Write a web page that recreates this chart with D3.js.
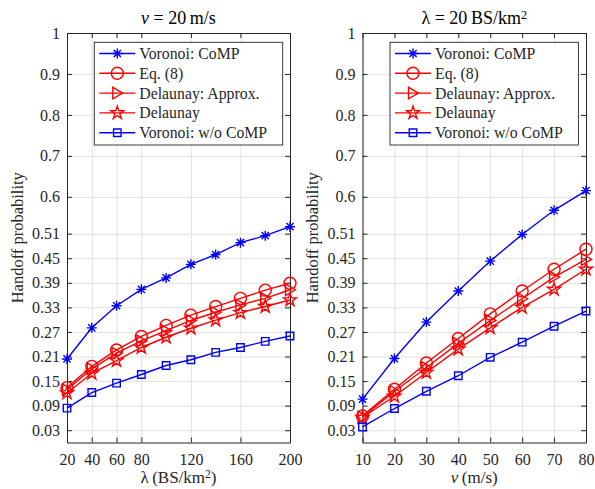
<!DOCTYPE html>
<html>
<head>
<meta charset="utf-8">
<script src="https://cdn.jsdelivr.net/npm/d3@7"></script>
<style>
  body { margin: 0; background: #fff; }
  svg { display: block; }
</style>
</head>
<body>
<svg id="chart" width="595" height="489"></svg>
<script>
// ---- data ----
const lambdaVals = [20, 40, 60, 80, 100, 120, 140, 160, 180, 200];
const lambdaTicks = [20, 40, 60, 80, 120, 160, 200];
const speedVals = [10, 20, 30, 40, 50, 60, 70, 80];
const speedTicks = [10, 20, 30, 40, 50, 60, 70, 80];
const yTicks = [0.03, 0.09, 0.15, 0.21, 0.27, 0.33, 0.39, 0.45, 0.51, 0.6, 0.7, 0.8, 0.9, 1];

const seriesNames = ["Voronoi: CoMP", "Eq. (8)", "Delaunay: Approx.", "Delaunay", "Voronoi: w/o CoMP"];
const seriesColors = ["#0000ff", "#ff0000", "#ff0000", "#ff0000", "#0000ff"];
const seriesMarkers = ["asterisk", "circle", "triangleRight", "pentagram", "square"];

// handoff probability vs. BS density (v = 20 m/s)
const lamVoronoiCoMP   = [0.204, 0.280, 0.334, 0.374, 0.402, 0.435, 0.459, 0.488, 0.505, 0.527];
const lamEq8           = [0.134, 0.186, 0.226, 0.259, 0.286, 0.311, 0.332, 0.352, 0.372, 0.389];
const lamDelaunayApx   = [0.129, 0.180, 0.218, 0.248, 0.273, 0.298, 0.318, 0.336, 0.352, 0.373];
const lamDelaunay      = [0.121, 0.169, 0.200, 0.232, 0.257, 0.279, 0.299, 0.317, 0.332, 0.348];
const lamVoronoiNoCoMP = [0.084, 0.122, 0.145, 0.166, 0.188, 0.202, 0.220, 0.232, 0.247, 0.260];

// handoff probability vs. speed (lambda = 20 BS/km^2)
const spdVoronoiCoMP   = [0.106, 0.205, 0.294, 0.370, 0.443, 0.508, 0.567, 0.615];
const spdEq8           = [0.065, 0.130, 0.194, 0.254, 0.314, 0.370, 0.423, 0.472];
const spdDelaunayApx   = [0.0625, 0.1245, 0.183, 0.242, 0.298, 0.351, 0.404, 0.447];
const spdDelaunay      = [0.061, 0.113, 0.171, 0.228, 0.280, 0.330, 0.374, 0.423];
const spdVoronoiNoCoMP = [0.038, 0.083, 0.125, 0.163, 0.208, 0.245, 0.284, 0.321];

// ---- drawing ----
const svg = d3.select("#chart");
const FONT = "'Liberation Serif', 'Times New Roman', serif";
const AX = "#262626";
const GRID = "#e2e2e2";
const plotTop = 33, plotBottom = 442.5;

const panels = [
  {
    x0: 67, x1: 290, xs: lambdaVals, ticks: lambdaTicks, domain: [20, 200],
    series: [lamVoronoiCoMP, lamEq8, lamDelaunayApx, lamDelaunay, lamVoronoiNoCoMP],
    title: [{t: "v", i: true}, {t: " = 20\u2009m/s"}],
    xlabel: [{t: "λ\u2009(BS/km"}, {t: "2", sup: true}, {t: ")"}],
    legendX: 94.3
  },
  {
    x0: 362.5, x1: 586, xs: speedVals, ticks: speedTicks, domain: [10, 80],
    series: [spdVoronoiCoMP, spdEq8, spdDelaunayApx, spdDelaunay, spdVoronoiNoCoMP],
    title: [{t: "λ = 20\u2009BS/km"}, {t: "2", sup: true}],
    xlabel: [{t: "v", i: true}, {t: "\u2009(m/s)"}],
    legendX: 390
  }
];

function markerPath(type) {
  switch (type) {
    case "asterisk": {
      const r = 5, a = 3.6;
      return `M${-r},0L${r},0M0,${-r}L0,${r}M${-a},${-a}L${a},${a}M${-a},${a}L${a},${-a}`;
    }
    case "circle": return d3.symbol(d3.symbolCircle, Math.PI * 36)();
    case "square": return d3.symbol(d3.symbolSquare, 56)();
    case "pentagram": return d3.symbol(d3.symbolStar, 52)();
    case "triangleRight": return "M5.5,0L-4.5,-5.8L-4.5,5.8Z";
  }
}

function richText(sel, parts, size) {
  parts.forEach(p => {
    const ts = sel.append("tspan").text(p.t);
    if (p.i) ts.attr("font-style", "italic");
    if (p.sup) ts.attr("font-size", size * 0.68).attr("baseline-shift", "40%");
  });
}

panels.forEach(P => {
  const x = d3.scaleLinear().domain(P.domain).range([P.x0, P.x1]);
  const y = d3.scaleLinear().domain([0, 1]).range([plotBottom, plotTop]);
  const w = P.x1 - P.x0, h = plotBottom - plotTop;
  const g = svg.append("g");

  // grid
  g.append("g").attr("transform", `translate(0,${plotBottom})`)
    .call(d3.axisBottom(x).tickValues(P.ticks).tickSize(-h).tickFormat(""))
    .call(s => s.select(".domain").remove())
    .call(s => s.selectAll("line").attr("stroke", GRID));
  g.append("g").attr("transform", `translate(${P.x0},0)`)
    .call(d3.axisLeft(y).tickValues(yTicks).tickSize(-w).tickFormat(""))
    .call(s => s.select(".domain").remove())
    .call(s => s.selectAll("line").attr("stroke", GRID));

  // axes (ticks pointing inward on all four sides)
  const styleAxis = s => {
    s.select(".domain").attr("stroke", AX);
    s.selectAll(".tick line").attr("stroke", AX);
    s.selectAll("text").attr("fill", AX).attr("font-family", FONT).attr("font-size", 16);
  };
  g.append("g").attr("transform", `translate(0,${plotBottom})`)
    .call(d3.axisBottom(x).tickValues(P.ticks).tickSizeInner(-5).tickSizeOuter(0).tickPadding(11).tickFormat(d3.format("d")))
    .call(styleAxis);
  g.append("g").attr("transform", `translate(0,${plotTop})`)
    .call(d3.axisTop(x).tickValues(P.ticks).tickSizeInner(-5).tickSizeOuter(0).tickFormat(""))
    .call(styleAxis);
  g.append("g").attr("transform", `translate(${P.x0},0)`)
    .call(d3.axisLeft(y).tickValues(yTicks).tickSizeInner(-5).tickSizeOuter(0).tickPadding(7).tickFormat(d => String(+d.toFixed(2))))
    .call(styleAxis);
  g.append("g").attr("transform", `translate(${P.x1},0)`)
    .call(d3.axisRight(y).tickValues(yTicks).tickSizeInner(-5).tickSizeOuter(0).tickFormat(""))
    .call(styleAxis);

  // series
  const line = d3.line().x(d => x(d[0])).y(d => y(d[1]));
  P.series.forEach((vals, i) => {
    const pts = P.xs.map((xv, k) => [xv, vals[k]]);
    const color = seriesColors[i];
    g.append("path").datum(pts).attr("d", line)
      .attr("fill", "none").attr("stroke", color).attr("stroke-width", 1.4);
    g.selectAll(null).data(pts).enter().append("path")
      .attr("d", markerPath(seriesMarkers[i]))
      .attr("transform", d => `translate(${x(d[0])},${y(d[1])})`)
      .attr("fill", "none").attr("stroke", color).attr("stroke-width", 1.4);
  });

  // legend
  const lx = P.legendX, ly = 42.3, lw = 188.4, lh = 102.7;
  const lg = g.append("g");
  lg.append("rect").attr("x", lx).attr("y", ly).attr("width", lw).attr("height", lh)
    .attr("fill", "#fff").attr("stroke", AX).attr("stroke-width", 0.9);
  seriesNames.forEach((name, i) => {
    const cy = 53.5 + i * 19.8;
    const color = seriesColors[i];
    lg.append("line").attr("x1", lx + 5).attr("x2", lx + 41).attr("y1", cy).attr("y2", cy)
      .attr("stroke", color).attr("stroke-width", 1.4);
    lg.append("path").attr("d", markerPath(seriesMarkers[i]))
      .attr("transform", `translate(${lx + 23},${cy})`)
      .attr("fill", "none").attr("stroke", color).attr("stroke-width", 1.4);
    lg.append("text").attr("x", lx + 45).attr("y", cy + 5.5)
      .attr("font-family", FONT).attr("font-size", 15.8).attr("fill", AX).text(name);
  });

  // title
  const cx = (P.x0 + P.x1) / 2;
  richText(g.append("text").attr("x", cx).attr("y", 24).attr("text-anchor", "middle")
    .attr("font-family", FONT).attr("font-size", 18).attr("fill", "#000"), P.title, 18);

  // x label
  richText(g.append("text").attr("x", cx).attr("y", 483).attr("text-anchor", "middle")
    .attr("font-family", FONT).attr("font-size", 17).attr("fill", AX), P.xlabel, 17);

  // y label
  g.append("text").attr("transform", `translate(${P.x0 - 44.5},${(plotTop + plotBottom) / 2}) rotate(-90)`)
    .attr("text-anchor", "middle").attr("font-family", FONT).attr("font-size", 16.5).attr("fill", AX)
    .text("Handoff probability");
});
</script>
</body>
</html>
